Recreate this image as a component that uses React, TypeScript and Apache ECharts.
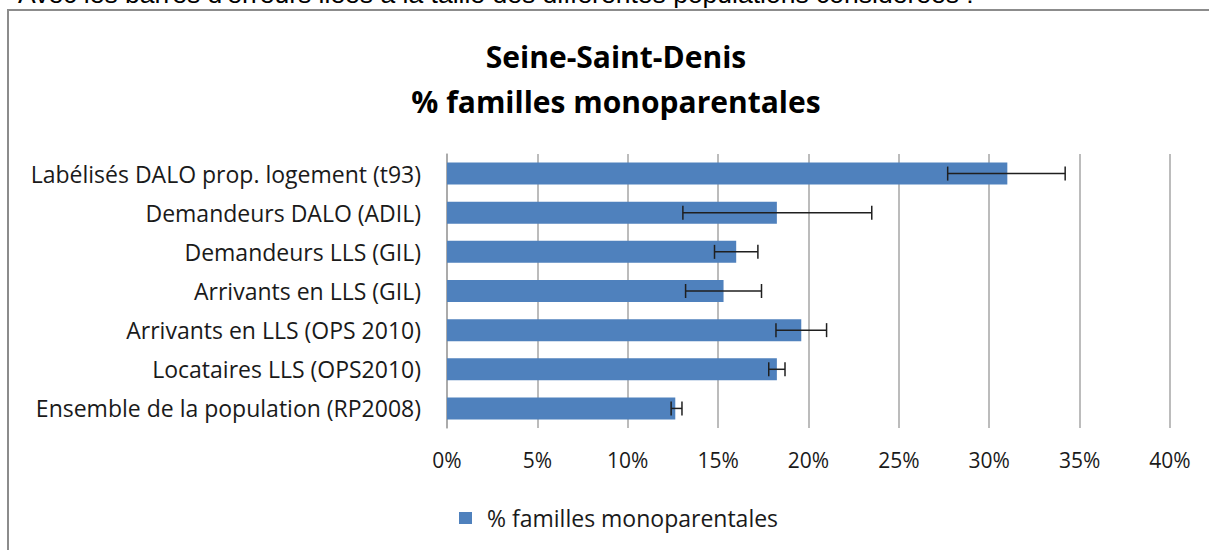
import React, { useEffect, useRef } from "react";
import * as echarts from "echarts";

const categories = [
  "Labélisés DALO prop. logement (t93)",
  "Demandeurs DALO (ADIL)",
  "Demandeurs LLS (GIL)",
  "Arrivants en LLS (GIL)",
  "Arrivants en LLS (OPS 2010)",
  "Locataires LLS (OPS2010)",
  "Ensemble de la population (RP2008)",
];
const values = [0.31, 0.1825, 0.16, 0.153, 0.196, 0.1825, 0.1263];
const errLow = [0.277, 0.1305, 0.148, 0.132, 0.182, 0.178, 0.124];
const errHigh = [0.342, 0.235, 0.172, 0.174, 0.21, 0.187, 0.13];
const xTicks = { min: 0, max: 0.4, interval: 0.05 };
const seriesName = "% familles monoparentales";
const titleLines = ["Seine-Saint-Denis", "% familles monoparentales"];
const introText =
  "Avec les barres d'erreurs liées à la taille des différentes populations considérées :";

const FONT = "'Open Sans', 'Noto Sans', sans-serif";

export default function App() {
  const ref = useRef<HTMLDivElement>(null);
  useEffect(() => {
    if (!ref.current) return;
    const chart = echarts.init(ref.current, null, { renderer: "svg" });
    const errData = categories.map((_, i) => [errLow[i], errHigh[i], i]);
    chart.setOption({
      animation: false,
      backgroundColor: "#ffffff",
      textStyle: { fontFamily: FONT },
      grid: { left: 447, right: 39, top: 154, height: 274, containLabel: false },
      xAxis: {
        type: "value",
        min: xTicks.min,
        max: xTicks.max,
        interval: xTicks.interval,
        axisLine: { show: false },
        axisTick: { show: false },
        splitLine: { show: true, lineStyle: { color: "#a6a6a6", width: 1.5 } },
        axisLabel: {
          formatter: (v: number) => Math.round(v * 100) + "%",
          fontSize: 21,
          color: "#1a1a1a",
          fontFamily: FONT,
          margin: 21,
        },
      },
      yAxis: {
        type: "category",
        data: categories,
        inverse: true,
        axisLine: { show: true, lineStyle: { color: "#a6a6a6", width: 1.5 } },
        axisTick: { show: false },
        axisLabel: {
          fontSize: 23,
          color: "#1a1a1a",
          fontFamily: FONT,
          margin: 26,
        },
      },
      legend: {
        data: [seriesName],
        left: 454,
        top: 501,
        itemWidth: 13,
        itemHeight: 12,
        icon: "rect",
        textStyle: {
          fontSize: 23,
          color: "#1a1a1a",
          fontFamily: FONT,
          lineHeight: 24,
          padding: [0, 0, 0, 10],
        },
      },
      graphic: [
        {
          type: "text",
          x: 18,
          y: -6.5,
          style: {
            text: introText,
            font: "26.5px 'Liberation Sans', sans-serif",
            fill: "#000",
            textVerticalAlign: "middle",
          },
        },
        {
          type: "rect",
          shape: { x: 8, y: 10, width: 1240, height: 600 },
          style: { fill: "none", stroke: "#8c8c8c", lineWidth: 2 },
        },
        {
          type: "text",
          x: 616,
          y: 56,
          style: {
            text: titleLines[0],
            font: `bold 30px ${FONT}`,
            fill: "#000",
            textAlign: "center",
            textVerticalAlign: "middle",
          },
        },
        {
          type: "text",
          x: 616,
          y: 101,
          style: {
            text: titleLines[1],
            font: `bold 30px ${FONT}`,
            fill: "#000",
            textAlign: "center",
            textVerticalAlign: "middle",
          },
        },
      ],
      series: [
        {
          name: seriesName,
          type: "bar",
          data: values,
          barWidth: 22,
          itemStyle: { color: "#4f81bd" },
        },
        {
          name: "err",
          type: "custom",
          data: errData,
          encode: { x: [0, 1], y: 2 },
          z: 5,
          renderItem: (params: any, api: any) => {
            const idx = api.value(2);
            const p1 = api.coord([api.value(0), idx]);
            const p2 = api.coord([api.value(1), idx]);
            const h = 7;
            const style = { stroke: "#1f1f1f", lineWidth: 1.5 };
            return {
              type: "group",
              children: [
                { type: "line", shape: { x1: p1[0], y1: p1[1], x2: p2[0], y2: p2[1] }, style },
                { type: "line", shape: { x1: p1[0], y1: p1[1] - h, x2: p1[0], y2: p1[1] + h }, style },
                { type: "line", shape: { x1: p2[0], y1: p2[1] - h, x2: p2[0], y2: p2[1] + h }, style },
              ],
            };
          },
        },
      ],
    });
    return () => chart.dispose();
  }, []);
  return (
    <div
      ref={ref}
      style={{ position: "absolute", left: 0, top: 0, width: 1209, height: 550 }}
    />
  );
}
